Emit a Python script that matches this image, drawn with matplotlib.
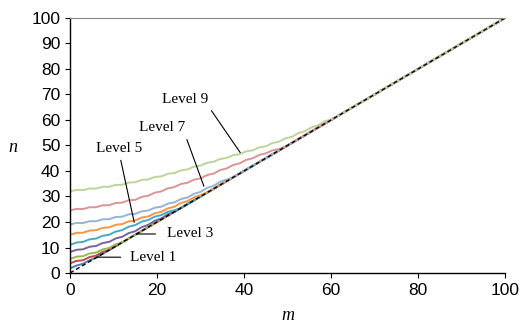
import numpy as np
import matplotlib
matplotlib.use("Agg")
from matplotlib import pyplot as plt

# sampling positions along m (shared by all levels, each level stops where it meets n = m)
m_grid = np.arange(0, 62, 1.5)

level1 = [1.8, 2.9, 3.6, 5.0, 6.0]
level2 = [3.8, 4.75, 5.0, 6.25, 6.8, 8.25, 9.0]
level3 = [5.5, 6.4, 6.6, 7.65, 8.0, 9.25, 9.8, 11.25, 12.0]
level4 = [8.2, 9.1, 9.3, 10.3, 10.6, 11.75, 12.2, 13.55, 14.2, 15.65, 16.4,
          18.0, 18.9, 20.5, 21.4, 23.05, 24.0]
level5 = [11.0, 11.95, 12.2, 13.2, 13.5, 14.6, 15.0, 16.25, 16.8, 18.15, 18.8,
          20.15, 20.8, 22.1, 22.7, 24.0, 24.6, 25.5]
level6 = [15.0, 15.75, 15.8, 16.65, 16.8, 17.7, 17.9, 18.9, 19.2, 20.25, 20.6,
          21.75, 22.2, 23.45, 24.0, 25.35, 26.0, 27.45, 28.2, 29.7, 30.5, 31.5]
level7 = [19.0, 19.65, 19.6, 20.3, 20.3, 21.05, 21.1, 21.95, 22.1, 23.0, 23.2,
          24.2, 24.5, 25.6, 26.0, 27.2, 27.7, 29.0, 29.6, 31.05, 31.8, 33.35,
          34.2, 35.75, 36.6, 37.5]
level8 = [24.5, 25.15, 25.1, 25.8, 25.8, 26.55, 26.6, 27.45, 27.6, 28.5, 28.7,
          29.85, 30.3, 31.5, 32.0, 33.2, 33.7, 34.9, 35.4, 36.6, 37.1, 38.4,
          39.0, 40.35, 41.0, 42.35, 43.0, 44.35, 45.0, 46.3, 46.9, 48.1, 48.6,
          49.5]
level9 = [32.0, 32.6, 32.5, 33.15, 33.1, 33.8, 33.8, 34.55, 34.6, 35.45, 35.6,
          36.5, 36.7, 37.65, 37.9, 38.9, 39.2, 40.25, 40.6, 41.7, 42.1, 43.2,
          43.6, 44.7, 45.1, 46.2, 46.6, 47.7, 48.1, 49.25, 49.7, 50.95, 51.5,
          52.8, 53.4, 54.85, 55.6, 57.1, 57.9, 59.45, 60.3, 61.5]

levels = [level1, level2, level3, level4, level5, level6, level7, level8, level9]
colors = ['#4a7ebb', '#be4b48', '#98b954', '#7d60a0', '#46aac5', '#f79646',
          '#95b3d7', '#d99694', '#bcd49a']

# diagonal n = m
diag_m = [0, 100]
diag_n = [0, 100]

fig = plt.figure(figsize=(5.31, 3.26), dpi=100)
ax = fig.add_axes([70/531, 53/326, 435/531, 255/326])

for vals, c in zip(levels, colors):
    mm = list(m_grid[:len(vals)]) + [diag_m[-1]]
    nn = list(vals) + [diag_n[-1]]
    ax.plot(mm, nn, color=c, lw=1.4, solid_joinstyle='round')

ax.plot(diag_m, diag_n, color='black', lw=1.0, dashes=(3, 2))

ax.set_xlim(0, 100)
ax.set_ylim(0, 100)
ax.set_xticks(np.arange(0, 101, 20))
ax.set_yticks(np.arange(0, 101, 10))
ax.spines['right'].set_visible(False)
ax.spines['top'].set_color('#868686')
for s in ['left', 'bottom']:
    ax.spines[s].set_linewidth(1.0)
ax.tick_params(axis='both', labelsize=12.5, length=3.5, width=0.8)
ax.tick_params(axis='x', pad=4)
for lab in ax.get_xticklabels() + ax.get_yticklabels():
    lab.set_fontfamily('Liberation Sans')

lbl = dict(family='Liberation Serif', fontsize=11)
arr = dict(arrowstyle='-', color='black', lw=0.8)
ax.annotate('Level 9', xy=(39.5, 46.3), xytext=(26.4, 68.2), ha='center', va='center',
            arrowprops=dict(relpos=(1, 0), **arr), **lbl)
ax.annotate('Level 7', xy=(31, 33), xytext=(21.1, 57), ha='center', va='center',
            arrowprops=dict(relpos=(1, 0), **arr), **lbl)
ax.annotate('Level 5', xy=(14.9, 18.8), xytext=(11.4, 48.9), ha='center', va='center',
            arrowprops=dict(relpos=(0.5, 0), **arr), **lbl)
ax.annotate('Level 3', xy=(15.3, 15.3), xytext=(22.2, 15.3), ha='left', va='center',
            arrowprops=dict(relpos=(0, 0.5), shrinkA=6, shrinkB=0, **arr), **lbl)
ax.annotate('Level 1', xy=(6.1, 6.2), xytext=(13.9, 6.2), ha='left', va='center',
            arrowprops=dict(relpos=(0, 0.5), shrinkA=5, shrinkB=0, **arr), **lbl)

fig.text(13/531, 1 - 147/326, 'n', family='Liberation Serif', style='italic',
         fontsize=13, ha='center', va='center')
fig.text(287.7/531, 1 - 316/326, 'm', family='Liberation Serif', style='italic',
         fontsize=13, ha='center', va='center')

fig.savefig('out.png', dpi=100)
